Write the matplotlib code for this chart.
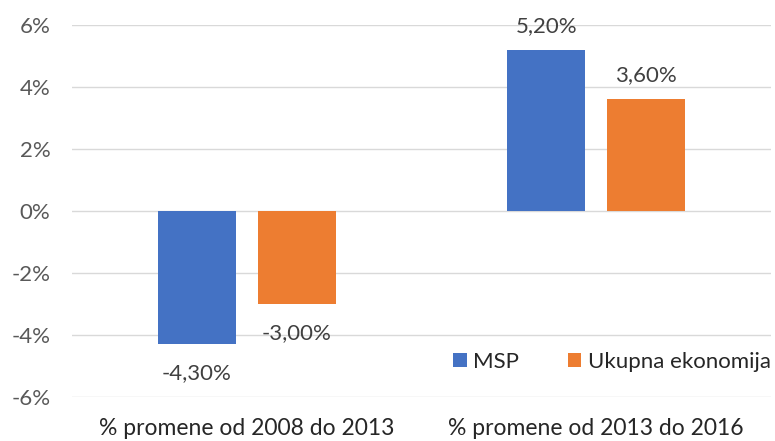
import matplotlib
matplotlib.use("Agg")
import matplotlib.pyplot as plt
from matplotlib.ticker import FixedLocator, FuncFormatter
import numpy as np

categories = ["% promene od 2008 do 2013", "% promene od 2013 do 2016"]
series_names = ["MSP", "Ukupna ekonomija"]
msp = [-4.3, 5.2]
ukupna = [-3.0, 3.6]
yticks = [-6, -4, -2, 0, 2, 4, 6]

colors = ["#4472C4", "#ED7D31"]
font = "Lato"
plt.rcParams["font.family"] = [font, "DejaVu Sans"]

fig = plt.figure(figsize=(7.75, 4.41), dpi=100)
ax = fig.add_axes([72/775, 1-397/441, 699/775, (397-25)/441])

x = np.arange(len(categories))
w = 0.222
off = 0.143
b1 = ax.bar(x - off, msp, w, color=colors[0], label=series_names[0], zorder=3)
b2 = ax.bar(x + off, ukupna, w, color=colors[1], label=series_names[1], zorder=3)

def fmt(v):
    return f"{v:.2f}%".replace(".", ",")

for bars, vals in ((b1, msp), (b2, ukupna)):
    for rect, v in zip(bars, vals):
        xc = rect.get_x() + rect.get_width()/2
        if v >= 0:
            ax.annotate(fmt(v), (xc, v), xytext=(0, 10), textcoords="offset points",
                        ha="center", va="bottom", fontsize=16, color="#404040")
        else:
            ax.annotate(fmt(v), (xc, v), xytext=(0, -13.5), textcoords="offset points",
                        ha="center", va="top", fontsize=16, color="#404040")

ax.set_xlim(-0.5, 1.5)
ax.set_ylim(-6, 6)
ax.yaxis.set_major_locator(FixedLocator(yticks))
ax.yaxis.set_major_formatter(FuncFormatter(lambda v, p: f"{v:.0f}%"))
ax.set_xticks(x)
ax.set_xticklabels(categories, fontsize=16.5, color="#262626")
ax.tick_params(axis="x", length=0, pad=15)
ax.tick_params(axis="y", length=0, pad=15.5, labelsize=16, labelcolor="#595959")
ax.grid(axis="y", color="#D9D9D9", linewidth=1.0, zorder=0)
for s in ax.spines.values():
    s.set_visible(False)

leg = ax.legend(loc="center right", bbox_to_anchor=(771/775, 1-362/441),
                bbox_transform=fig.transFigure, ncol=2, frameon=False,
                fontsize=16, handlelength=0.6, handleheight=0.6, handletextpad=0.3,
                columnspacing=2.2, borderaxespad=0, borderpad=0)
for t in leg.get_texts():
    t.set_color("#262626")

fig.savefig("out.png", dpi=100)
